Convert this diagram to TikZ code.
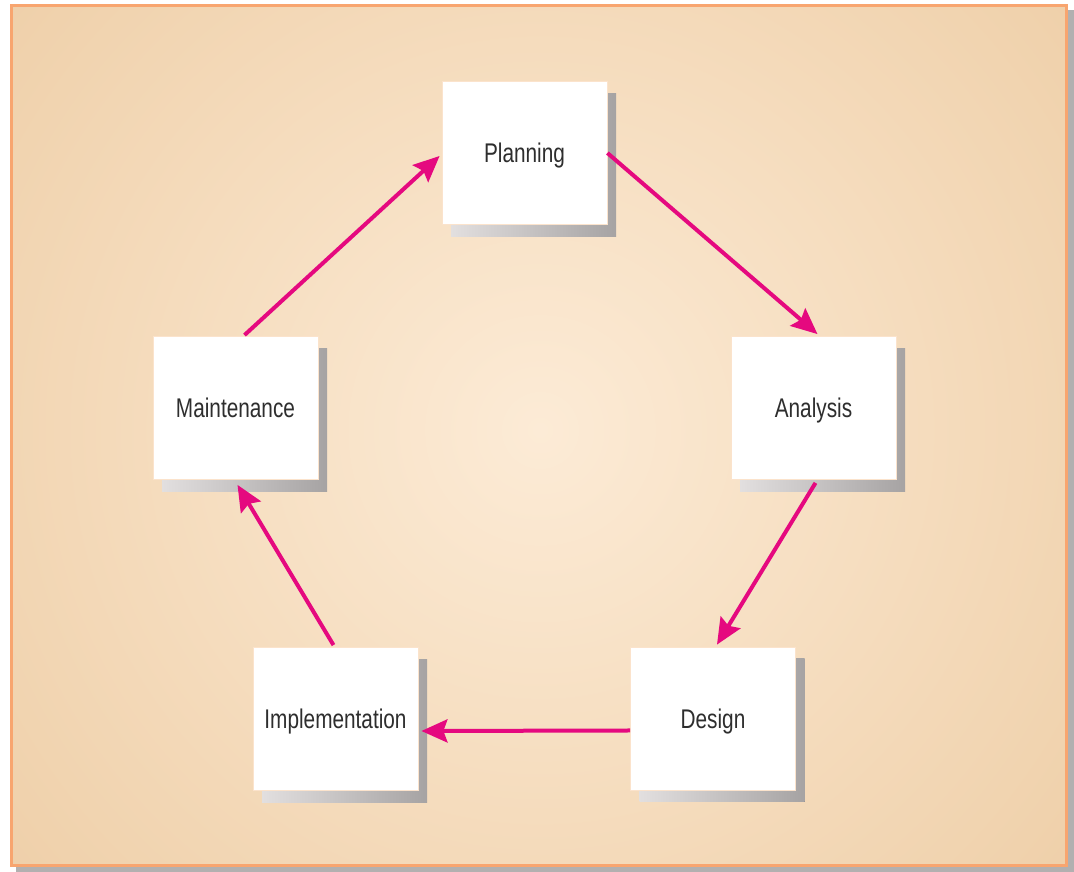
\documentclass[tikz,border=0pt]{standalone}
\usepackage{fontspec}
\setmainfont{Liberation Sans}[FakeStretch=0.77]
\usetikzlibrary{arrows.meta,shadows}

\definecolor{flow}{HTML}{E5097F}
\definecolor{framecol}{HTML}{F8A56F}
\definecolor{frameshade}{HTML}{B2B0B0}
\definecolor{shL}{HTML}{E2DFDF}
\definecolor{shR}{HTML}{A6A3A3}
\definecolor{boxedge}{HTML}{FBE3CC}
\definecolor{txt}{HTML}{2E2E2E}
\definecolor{bgA}{HTML}{FCEBD6}
\definecolor{bgB}{HTML}{F8E2C7}
\definecolor{bgC}{HTML}{F0D2AD}
\definecolor{bgD}{HTML}{EAC69D}
\definecolor{bgE}{HTML}{E7C195}
\definecolor{bgF}{HTML}{E3BB8D}

% soft glow in the middle of the panel
\pgfdeclareradialshading{bgglow}{\pgfpoint{0bp}{0bp}}{%
  color(0bp)=(bgA); color(8bp)=(bgB); color(22bp)=(bgC);
  color(31bp)=(bgD); color(39bp)=(bgE); color(50bp)=(bgF)}

\tikzset{
  stage/.style={draw=boxedge, line width=0.8pt, fill=white,
    minimum width=165pt, minimum height=143pt, inner sep=0pt,
    text height=19.5pt, text depth=0pt,
    text=txt, font=\fontsize{27}{31}\selectfont,
    drop shadow={shadow xshift=9pt, shadow yshift=-12pt, opacity=1,
      left color=shL, right color=shR, draw=none}},
  flowarrow/.style={draw=flow, line width=4pt,
    -{Stealth[length=26pt,width=23pt,inset=4pt]}}
}

\begin{document}
\begin{tikzpicture}[x=1pt,y=1pt]
\useasboundingbox (0,0) rectangle (1074,872);
\fill[white] (0,0) rectangle (1074,872);

% panel with its shadow and orange frame
\fill[frameshade] (16,0) rectangle (1074,862);
\begin{scope}
  \clip (11.5,6.5) rectangle (1066.5,866.5);
  \shade[shading=bgglow] (540,442) circle (720pt);
\end{scope}
\draw[framecol, line width=3pt] (11.5,6.5) rectangle (1066.5,866.5);

% the five stages
\node[stage] (plan)  at (524.5,719) {Planning};
\node[stage] (ana)   at (813.5,464) {Analysis};
\node[stage] (des)   at (713,153.5) {Design};
\node[stage] (impl)  at (335.5,153) {Implementation};
\node[stage] (maint) at (235.5,464) {Maintenance};

% the cycle
\draw[flowarrow] (plan.east) -- ([xshift=4pt,yshift=2pt]ana.north);
\draw[flowarrow] ([xshift=2pt,yshift=-3pt]ana.south) -- ([xshift=4pt,yshift=2pt]des.north);
\draw[flowarrow] ([yshift=-12pt]des.west) -- ([xshift=3pt,yshift=-12pt]impl.east);
\draw[flowarrow] ([xshift=-2pt,yshift=2pt]impl.north) -- ([xshift=2pt,yshift=-5pt]maint.south);
\draw[flowarrow] ([xshift=9pt,yshift=1pt]maint.north) -- ([xshift=-2pt,yshift=-3pt]plan.west);
\end{tikzpicture}
\end{document}
